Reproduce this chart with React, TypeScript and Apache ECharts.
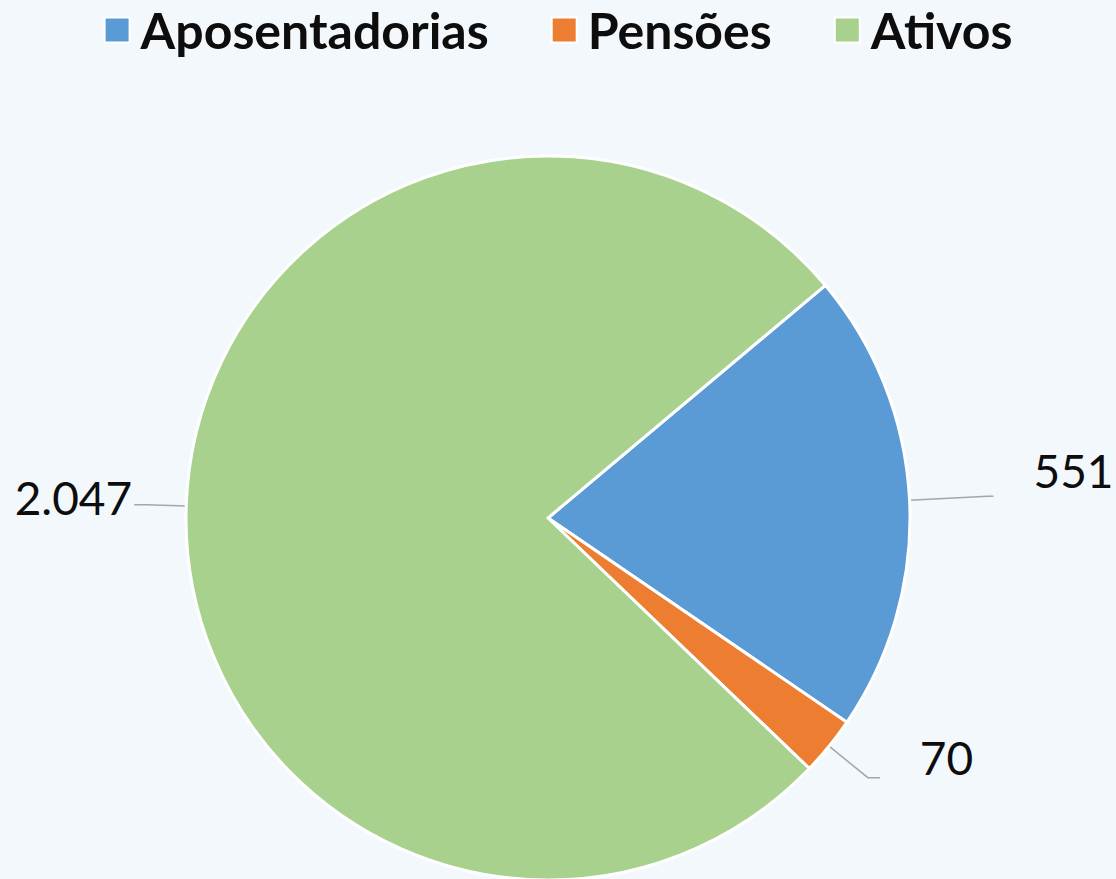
import React, { useEffect, useRef } from "react";
import * as echarts from "echarts";

const categories = ["Aposentadorias", "Pensões", "Ativos"];
const values = [551, 70, 2047];
const colors = ["#5b9bd5", "#ed7d31", "#a9d18e"];
const labelTexts = ["551", "70", "2.047"];

export default function App() {
  const ref = useRef<HTMLDivElement>(null);
  useEffect(() => {
    document.body.style.margin = "0";
    const chart = echarts.init(ref.current!, undefined, { renderer: "svg" });
    const perItem = [
      { length: 78, length2: 6, dist: 40, dy: -26 },
      { length: 50, length2: 12, dist: 40, dy: -20 },
      { length: 40, length2: 12, dist: 2, dy: -7 },
    ];
    chart.setOption({
      animation: false,
      backgroundColor: "#f3f8fc",
      legend: {
        top: 0,
        left: "center",
        icon: "rect",
        itemWidth: 25,
        itemHeight: 25,
        itemGap: 62,
        textStyle: {
          fontFamily: "Lato",
          fontWeight: "bold",
          fontSize: 50,
          lineHeight: 42,
          color: "#0d0d0d",
          padding: [0, 0, 0, 6],
        },
        data: categories,
      },
      series: [
        {
          type: "pie",
          center: [548, 518],
          radius: 362,
          startAngle: 40,
          clockwise: true,
          avoidLabelOverlap: false,
          itemStyle: { borderColor: "#ffffff", borderWidth: 3 },
          label: {
            show: true,
            fontFamily: "Lato",
            fontSize: 46,
            color: "#0d0d0d",
            formatter: (p: any) => labelTexts[p.dataIndex],
          },
          labelLine: {
            show: true,
            lineStyle: { color: "#a6a6a6", width: 1.5 },
          },
          labelLayout: (p: any) => ({ dy: perItem[p.dataIndex].dy }),
          data: categories.map((name, i) => ({
            name,
            value: values[i],
            itemStyle: { color: colors[i] },
            label: { distanceToLabelLine: perItem[i].dist },
            labelLine: {
              length: perItem[i].length,
              length2: perItem[i].length2,
            },
          })),
        },
      ],
    });
    return () => chart.dispose();
  }, []);
  return <div ref={ref} style={{ width: 1116, height: 879 }} />;
}
